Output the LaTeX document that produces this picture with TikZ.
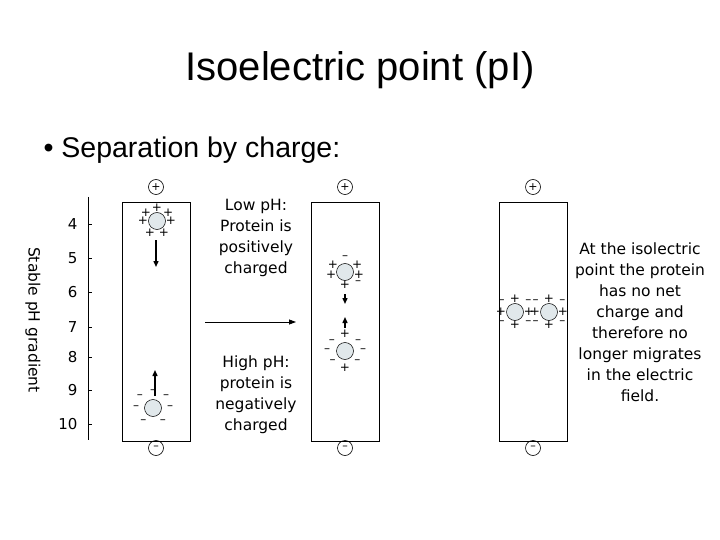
\documentclass[tikz,border=0pt]{standalone}
\usepackage{fontspec}
\setmainfont{Liberation Sans}
\newfontfamily\dv{DejaVu Sans}
\usetikzlibrary{arrows.meta}
\newcommand{\chg}[2]{\foreach \a/\r/\s in {#2}{\node[ch] at ([shift={(-\a:\r)}]#1.center) {\s};}}
\begin{document}
\begin{tikzpicture}[x=1pt,y=-1pt,
  col/.style={draw,line width=0.8pt},
  prot/.style={circle,draw,line width=0.5pt,fill=cyan!20!gray!22,minimum size=17pt,inner sep=0pt},
  ch/.style={inner sep=0pt,font=\dv\fontsize{12}{12}\selectfont},
  pole/.style={circle,draw,line width=0.6pt,minimum size=15pt,inner sep=0pt,font=\dv\fontsize{11}{11}\selectfont},
  mv/.style={line width=1.4pt,-{Triangle[length=6pt,width=5pt]}},
  lab/.style={font=\dv\fontsize{15.5}{21}\selectfont,align=center},
  ph/.style={anchor=east,font=\dv\fontsize{15}{15}\selectfont}]
\useasboundingbox (0,0) rectangle (720,540);
\node (title) at (360,70) {\fontsize{40}{46}\selectfont Isoelectric point (pI)};
\node[anchor=west] (sub) at (40,150) {\fontsize{28.5}{32}\selectfont \textbullet\ Separation by charge:};
% axis
\draw[line width=0.6pt] (88,197) coordinate (ax1) -- (88,440) coordinate (ax2);
\foreach \v/\y in {4/224,5/258,6/292,7/327,8/357,9/390,10/424}{
  \draw[line width=0.6pt] (88,\y) -- (92,\y);
  \node[ph] (ph\v) at (81,\y) {\v};}
\node[rotate=-90,font=\dv\fontsize{15.5}{16}\selectfont] (stab) at (33,320) {Stable pH gradient};
% columns
\foreach \n/\x in {a/156,b/345,c/533}{
  \draw[col] (\x-34,202) rectangle (\x+34,441);
  \node[pole] (p\n) at (\x,187) {+};
  \node[pole] (m\n) at (\x,448) {\raisebox{-2pt}{\textendash}};}
% column 1
\node[prot] (a1) at (157,221) {};
\chg{a1}{90/13/+,38/14/+,142/14/+,0/14/+,180/14/+,-60/14/+,-120/14/+}
\coordinate (a1s) at (156,240); \coordinate (a1e) at (156,267);
\draw[mv] (a1s) -- (a1e);
\node[prot] (a2) at (153,408) {};
\chg{a2}{90/16/\textendash,40/17/\textendash,140/17/\textendash,0/17/\textendash,180/17/\textendash,-55/17/\textendash,-125/17/\textendash}
\coordinate (a2s) at (155,396); \coordinate (a2e) at (155,370);
\draw[mv] (a2s) -- (a2e);
% column 2
\node[prot] (b1) at (345,272) {};
\chg{b1}{90/14/\textendash,30/14/+,150/14/+,-10/14/+,190/14/+,-90/13/+,-40/17/\textendash}
\coordinate (b1s) at (345,294); \coordinate (b1e) at (345,304);
\draw[mv] (b1s) -- (b1e);
\coordinate (b2s) at (345,328); \coordinate (b2e) at (345,317);
\draw[mv] (b2s) -- (b2e);
\node[prot] (b2) at (345,351) {};
\chg{b2}{90/17/+,-90/17/+,35/16/\textendash,145/16/\textendash,0/18/\textendash,180/18/\textendash,-40/16/\textendash,-140/16/\textendash}
% column 3
\node[prot] (c1) at (515,312) {};
\node[prot] (c2) at (549,312) {};
\foreach \p in {c1,c2}{
  \chg{\p}{90/13/+,-90/13/+,0/14/+,180/14/+,38/17/\textendash,142/17/\textendash,-38/17/\textendash,-142/17/\textendash}}
% main arrow
\coordinate (m1) at (205,322); \coordinate (m2) at (296,322);
\draw[line width=0.8pt,-{Triangle[length=7pt,width=5pt]}] (m1) -- (m2);
% labels
\node[lab] (low) at (256,238) {Low pH:\\Protein is\\positively\\charged};
\node[lab] (high) at (256,395) {High pH:\\protein is\\negatively\\charged};
\node[lab] (iso) at (640,322) {At the isolectric\\point the protein\\has no net\\charge and\\therefore no\\longer migrates\\in the electric\\field.};
\end{tikzpicture}
\end{document}
